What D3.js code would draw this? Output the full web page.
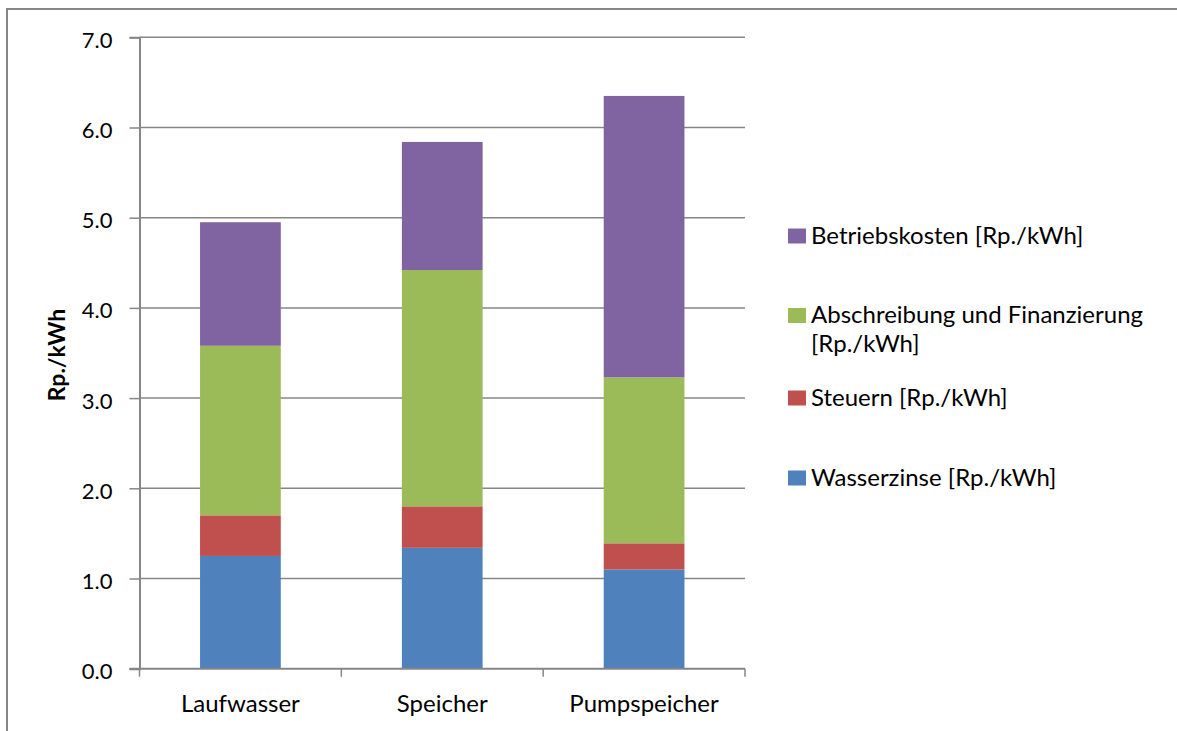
<!DOCTYPE html>
<html>
<head>
<meta charset="utf-8">
<script src="https://cdn.jsdelivr.net/npm/d3@7"></script>
<style>
  html, body { margin: 0; padding: 0; background: #fff; }
  svg { display: block; }
  text { font-family: Lato, "Open Sans", sans-serif; fill: #000; }
</style>
</head>
<body>
<svg id="chart" width="1177" height="731"></svg>
<script>
// Cost components of hydro power by plant type (Rp./kWh)
const categories = ["Laufwasser", "Speicher", "Pumpspeicher"];
const seriesNames = [
  "Wasserzinse [Rp./kWh]",
  "Steuern [Rp./kWh]",
  "Abschreibung und Finanzierung [Rp./kWh]",
  "Betriebskosten [Rp./kWh]"
];
const wasserzinse   = [1.25, 1.34, 1.10];
const steuern       = [0.45, 0.46, 0.29];
const abschreibung  = [1.88, 2.62, 1.84];
const betriebskosten = [1.37, 1.42, 3.12];
const seriesColors = ["#4F81BD", "#C0504D", "#9BBB59", "#8064A2"];
const yTicks = [0, 1, 2, 3, 4, 5, 6, 7];

const seriesValues = [wasserzinse, steuern, abschreibung, betriebskosten];
const keys = ["s0", "s1", "s2", "s3"];
const rows = categories.map((c, i) => {
  const r = { category: c };
  keys.forEach((k, j) => { r[k] = seriesValues[j][i]; });
  return r;
});

const svg = d3.select("#chart");
const gridColor = "#868686";
const labelSize = 24;

// outer chart frame (extends past the page edge on the right and bottom)
svg.append("rect")
  .attr("x", 7).attr("y", 9)
  .attr("width", 1200).attr("height", 760)
  .attr("fill", "none").attr("stroke", gridColor).attr("stroke-width", 2);

const plot = { left: 139.5, right: 745, top: 37.3, bottom: 668.7 };

const x = d3.scaleBand().domain(categories)
  .range([plot.left, plot.right]).paddingInner(0.6).paddingOuter(0.3);
const y = d3.scaleLinear().domain([0, 7]).range([plot.bottom, plot.top]);

// horizontal gridlines
svg.append("g").selectAll("line").data(yTicks.filter(t => t > 0)).join("line")
  .attr("x1", plot.left).attr("x2", plot.right)
  .attr("y1", d => y(d)).attr("y2", d => y(d))
  .attr("stroke", gridColor).attr("stroke-width", 1.5);

// stacked bars
const stack = d3.stack().keys(keys)(rows);
svg.append("g").selectAll("g").data(stack).join("g")
  .attr("fill", (d, i) => seriesColors[i])
  .selectAll("rect").data(d => d).join("rect")
  .attr("x", d => x(d.data.category))
  .attr("width", x.bandwidth())
  .attr("y", d => y(d[1]))
  .attr("height", d => y(d[0]) - y(d[1]));

// y axis
const yAxis = d3.axisLeft(y).tickValues(yTicks).tickFormat(d3.format(".1f"))
  .tickSize(10).tickPadding(17);
const gy = svg.append("g").attr("transform", `translate(${plot.left},0)`).call(yAxis);
gy.select(".domain").attr("stroke", gridColor).attr("stroke-width", 2);
gy.selectAll(".tick line").attr("stroke", gridColor).attr("stroke-width", 1.5);
gy.selectAll(".tick text").attr("font-size", 22).attr("dy", "0.45em")
  .style("font-family", "Lato, sans-serif").attr("fill", "#000");

// x axis with ticks at category boundaries
const boundaries = [plot.left].concat(categories.map(c => x(c) + x.bandwidth() / 2 + x.step() / 2));
const gx = svg.append("g");
gx.append("line")
  .attr("x1", plot.left - 10).attr("x2", plot.right)
  .attr("y1", plot.bottom).attr("y2", plot.bottom)
  .attr("stroke", gridColor).attr("stroke-width", 2);
gx.selectAll("line.tk").data(boundaries).join("line").attr("class", "tk")
  .attr("x1", d => d).attr("x2", d => d)
  .attr("y1", plot.bottom).attr("y2", plot.bottom + 8)
  .attr("stroke", gridColor).attr("stroke-width", 1.5);
gx.selectAll("text").data(categories).join("text")
  .attr("x", d => x(d) + x.bandwidth() / 2)
  .attr("y", 712)
  .attr("text-anchor", "middle")
  .attr("font-size", labelSize)
  .text(d => d);

// y axis title
svg.append("text")
  .attr("transform", "translate(65,355) rotate(-90)")
  .attr("text-anchor", "middle")
  .attr("font-size", 23).attr("font-weight", "bold")
  .text("Rp./kWh");

// legend, listed top-down in reverse stacking order
const legendItems = [
  { name: ["Betriebskosten [Rp./kWh]"], color: seriesColors[3], cy: 236 },
  { name: ["Abschreibung und Finanzierung", "[Rp./kWh]"], color: seriesColors[2], cy: 315.5 },
  { name: ["Steuern [Rp./kWh]"], color: seriesColors[1], cy: 398 },
  { name: ["Wasserzinse [Rp./kWh]"], color: seriesColors[0], cy: 478 }
];
const lg = svg.append("g").selectAll("g").data(legendItems).join("g");
lg.append("rect")
  .attr("x", 788).attr("y", d => d.cy - 7.5)
  .attr("width", 18).attr("height", 15)
  .attr("fill", d => d.color);
lg.each(function(d) {
  const t = d3.select(this).append("text")
    .attr("x", 811).attr("y", d.cy + 7.5).attr("font-size", labelSize);
  d.name.forEach((line, i) => {
    t.append("tspan").attr("x", 811).attr("dy", i === 0 ? 0 : 29).text(line);
  });
});
</script>
</body>
</html>
